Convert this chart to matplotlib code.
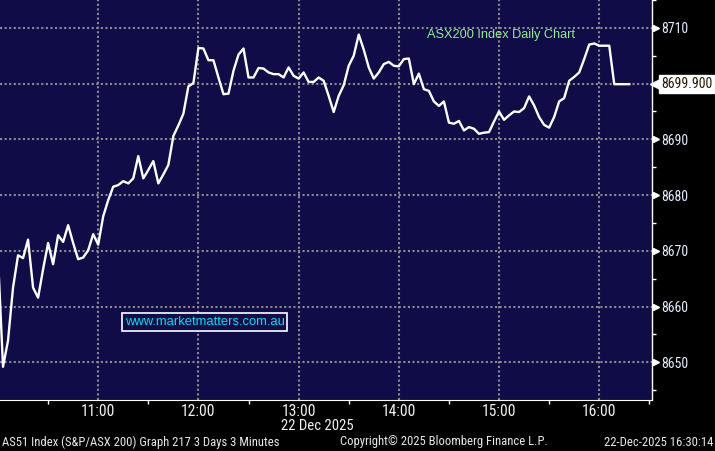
import matplotlib
matplotlib.use("Agg")
import matplotlib.pyplot as plt
import matplotlib.transforms as mtrans
import matplotlib.font_manager as fm
import pandas as pd
import numpy as np

# ---- data ----
start_time = "2025-12-22 10:00"
interval = "3min"
values = [
    8669.0, 8649.2, 8653.9, 8663.4, 8669.2, 8668.7, 8672.0, 8663.4, 8661.6, 8666.7,
    8671.4, 8667.6, 8672.8, 8671.6, 8674.6, 8671.4, 8668.5, 8668.8, 8670.1, 8673.0,
    8671.1, 8676.2, 8679.1, 8681.5, 8681.8, 8682.5, 8682.1, 8683.0, 8687.0, 8683.0,
    8684.5, 8686.1, 8682.1, 8683.7, 8685.4, 8690.6, 8692.5, 8694.6, 8699.5, 8700.1,
    8706.4, 8706.3, 8704.2, 8704.2, 8701.1, 8698.1, 8698.2, 8702.3, 8705.2, 8706.3,
    8701.1, 8701.1, 8702.8, 8702.7, 8702.0, 8701.7, 8701.7, 8701.1, 8702.9, 8701.4,
    8700.9, 8702.0, 8700.3, 8700.3, 8701.1, 8700.5, 8697.8, 8694.9, 8697.8, 8699.7,
    8703.2, 8705.0, 8708.8, 8706.1, 8702.9, 8700.9, 8702.0, 8703.5, 8703.9, 8703.2,
    8703.1, 8704.4, 8704.5, 8699.9, 8701.8, 8699.0, 8698.7, 8696.8, 8696.0, 8696.8,
    8693.0, 8692.8, 8693.3, 8691.6, 8692.2, 8691.9, 8691.0, 8691.2, 8691.3, 8693.2,
    8695.0, 8693.5, 8694.3, 8695.0, 8694.9, 8695.6, 8697.7, 8696.1, 8694.0, 8692.6,
    8692.1, 8694.0, 8696.8, 8697.4, 8700.5, 8701.2, 8702.0, 8704.4, 8707.0, 8707.2,
    8706.8, 8706.8, 8706.8, 8699.9, 8699.9, 8699.9, 8699.9,
]
y_ticks = [8650, 8660, 8670, 8680, 8690, 8700, 8710]
x_tick_hours = ["11:00", "12:00", "13:00", "14:00", "15:00", "16:00"]
last_label = "8699.900"
title = "ASX200 Index Daily Chart"
watermark = "www.marketmatters.com.au"
date_label = "22 Dec 2025"
footer_left = "AS51 Index (S&P/ASX 200) Graph 217 3 Days 3 Minutes"
footer_mid = "Copyright\u00a9 2025 Bloomberg Finance L.P."
footer_right = "22-Dec-2025 16:30:14"

times = pd.date_range(start_time, periods=len(values), freq=interval)

# ---- fonts ----
names = {f.name for f in fm.fontManager.ttflist}
NARROW = None
for pref in ["Liberation Sans Narrow", "Roboto Condensed", "Open Sans Condensed",
             "Noto Sans Condensed", "DejaVu Sans Condensed"]:
    if pref in names:
        NARROW = dict(family=pref, stretch="normal")
        break
if NARROW is None:
    for fam in ["DejaVu Sans", "Noto Sans", "Roboto", "Open Sans"]:
        if any(f.name == fam and "condensed" in str(f.stretch) for f in fm.fontManager.ttflist):
            NARROW = dict(family=fam, stretch="condensed")
            break
if NARROW is None:
    NARROW = dict(family="Liberation Sans", stretch="normal")
SANS = dict(family="Liberation Sans" if "Liberation Sans" in names else "DejaVu Sans",
            stretch="normal")

# ---- style ----
NAVY = "#0f0c48"
GRID = "#8c8c8c"
W, H = 715, 451
fig = plt.figure(figsize=(W / 100, H / 100), dpi=100, facecolor="black")
renderer = fig.canvas.get_renderer()


def size_for(s, width_px, font):
    t = fig.text(0, 0, s, fontsize=10, family=font["family"], fontstretch=font["stretch"])
    w = t.get_window_extent(renderer=renderer).width
    t.remove()
    return 10 * width_px / w


ax = fig.add_axes([0, 51 / H, 652 / W, 400 / H])
ax.set_facecolor(NAVY)

ax.plot(times, values, color="white", lw=1.7, solid_joinstyle="round", zorder=3)

t0 = pd.Timestamp(start_time)
ax.set_xlim(t0 + pd.Timedelta(minutes=1.2), t0 + pd.Timedelta(minutes=391.6))
ax.set_ylim(8643.24, 8714.45)

# x axis
hour_pos = [pd.Timestamp("2025-12-22 " + h) for h in x_tick_hours]
ax.set_xticks(hour_pos)
ax.set_xticklabels(x_tick_hours)
half_pos = [t0 + pd.Timedelta(minutes=30 + 60 * k) for k in range(7)]
ax.set_xticks(half_pos, minor=True)
xs = size_for("11:00", 34, NARROW)
ax.tick_params(axis="x", which="major", length=0, pad=3, labelcolor="#f0f0f0",
               labelsize=xs)
ax.tick_params(axis="x", which="minor", length=3, color="white", width=1)
for lbl in ax.get_xticklabels():
    lbl.set_fontfamily(NARROW["family"])
    lbl.set_fontstretch(NARROW["stretch"])

# y axis on right (the label under the last-value box is hidden, as in the source)
last_val = values[-1]
ax.yaxis.tick_right()
ax.set_yticks(y_ticks)
ax.set_yticklabels(["" if abs(v - last_val) < 3 else str(v) for v in y_ticks])
ax.set_yticks(list(np.arange(8645, 8716, 10)), minor=True)
ys = size_for("8710", 27, NARROW)
ax.tick_params(axis="y", which="major", length=0, pad=6.5, labelcolor="#e4ecff",
               labelsize=ys)
ax.tick_params(axis="y", which="minor", length=3, color="white", width=1)
for lbl in ax.get_yticklabels():
    lbl.set_fontfamily(NARROW["family"])
    lbl.set_fontstretch(NARROW["stretch"])

# grid
ax.grid(True, which="major", color=GRID, linestyle=(0, (1, 1.2)), lw=1.5, zorder=1)

for s in ["top", "left"]:
    ax.spines[s].set_visible(False)
ax.spines["right"].set_color("white")
ax.spines["right"].set_linewidth(1)
ax.spines["bottom"].set_color("white")
ax.spines["bottom"].set_linewidth(0.8)

# tick arrows on right axis
trans = mtrans.blended_transform_factory(ax.transAxes, ax.transData)
off4 = mtrans.ScaledTranslation(4 / 100, 0, fig.dpi_scale_trans)
arrow_ticks = [v for v in y_ticks if abs(v - last_val) >= 3]
ax.plot([1.0] * len(arrow_ticks), arrow_ticks, linestyle="none", marker=">", ms=5,
        color="white", transform=trans + off4, clip_on=False, zorder=5)

# last value label
ax.plot([1.0], [last_val], linestyle="none", marker="<", ms=8, color="white",
        transform=trans + off4, clip_on=False, zorder=5)
ls = size_for(last_label, 51, NARROW)
ax.text(1.0, last_val, last_label,
        transform=trans + mtrans.ScaledTranslation(9 / 100, 0, fig.dpi_scale_trans),
        ha="left", va="center", fontsize=ls, family=NARROW["family"],
        fontstretch=NARROW["stretch"], color="#2a1500",
        bbox=dict(boxstyle="square,pad=0.15", fc="white", ec="white"),
        clip_on=False, zorder=6)

# title and watermark
ts = size_for(title, 149, SANS)
fig.text(427 / W, 1 - 35 / H, title, color="#8ef08e", fontsize=ts, family=SANS["family"],
         ha="left", va="center")
wsz = size_for(watermark, 161, SANS)
fig.text(125 / W, 1 - 322 / H, watermark, color="#00e0f0", fontsize=wsz,
         family=SANS["family"], ha="left", va="center",
         bbox=dict(boxstyle="square,pad=0.2", fc=NAVY, ec="white", lw=1.2))

# bottom texts
ds = size_for(date_label, 72, NARROW)
fig.text(317 / W, 1 - 426 / H, date_label, color="#f0f0f0", fontsize=ds,
         family=NARROW["family"], fontstretch=NARROW["stretch"], ha="center", va="center")
fs = min(size_for(footer_left, 288, NARROW), size_for(footer_mid, 207, NARROW),
         size_for(footer_right, 116, NARROW))
for txt, xp, ha in [(footer_left, 2, "left"), (footer_mid, 340, "left"),
                    (footer_right, 713, "right")]:
    fig.text(xp / W, 1 - 442 / H, txt, color="#e8e8e8", fontsize=fs,
             family=NARROW["family"], fontstretch=NARROW["stretch"], ha=ha, va="center")

fig.savefig("out.png", dpi=100, facecolor="black")
